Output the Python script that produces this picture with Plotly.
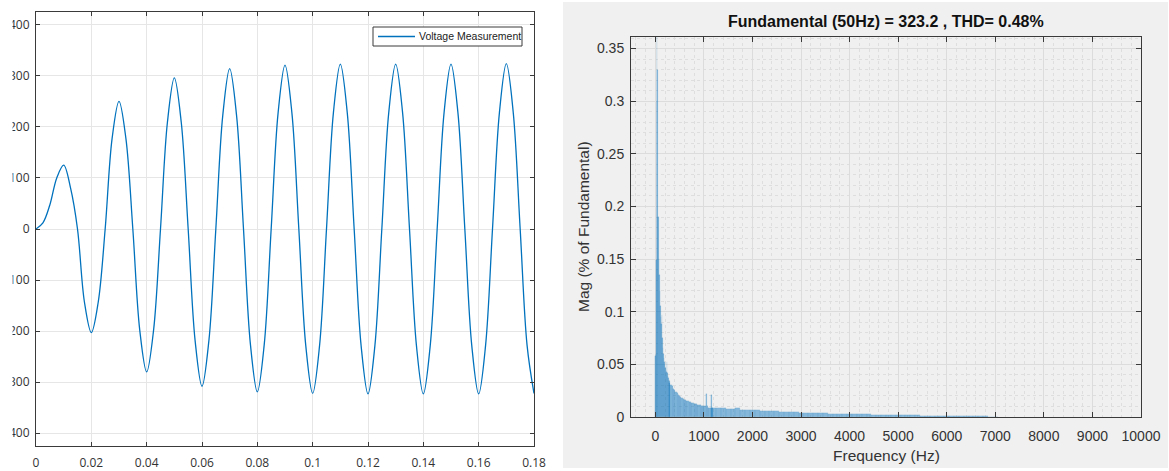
import numpy as np
import plotly.graph_objects as go

W, H = 1169, 471

# left panel: measured voltage, sampled every 2.5 ms
time_s = [round(0.0025 * i, 4) for i in range(73)]
voltage = [
    0, 12, 47, 100, 125, 80, 0, -143, -203, -143,
    0, 177, 250, 177, 0, -198, -280, -198, 0, 209,
    296, 209, 0, -218, -308, -218, 0, 222, 314, 222,
    0, -226, -319, -226, 0, 227, 321, 227, 0, -228,
    -322, -228, 0, 228, 323, 228, 0, -228, -323, -228,
    0, 228, 323, 228, 0, -228, -323, -228, 0, 228,
    323, 228, 0, -228, -323, -228, 0, 228, 324, 228,
    0, -228, -322,
]
series_name = "Voltage Measurement"

# right panel: FFT magnitude (% of fundamental)
freq_low = [0, 10, 20, 30, 40, 50, 60, 70, 80, 90, 100, 110, 120, 130, 140, 150,
            160, 170, 180, 190, 200, 210, 220, 230, 240, 250, 260, 270, 280, 290, 300]
mag_low = [0.058, 0.060, 0.149, 0.300, 0.361, 0.330, 0.190, 0.190, 0.150, 0.135,
           0.120, 0.105, 0.095, 0.088, 0.097, 0.075, 0.066, 0.060, 0.056, 0.052,
           0.050, 0.047, 0.045, 0.043, 0.052, 0.042, 0.039, 0.037, 0.035, 0.034, 0.032]

freq_mid = [325, 350, 375, 400, 425, 450, 475, 500, 525, 550, 575, 600, 625, 650,
            675, 700, 725, 750, 775, 800, 825, 850, 875, 900, 925, 950, 975, 1000,
            1025, 1050, 1075, 1100, 1125, 1150, 1175, 1200]
mag_mid = [0.030, 0.029, 0.027, 0.026, 0.024, 0.023, 0.021, 0.020, 0.019, 0.018,
           0.017, 0.016, 0.016, 0.015, 0.015, 0.014, 0.014, 0.013, 0.013, 0.012,
           0.012, 0.012, 0.011, 0.011, 0.011, 0.010, 0.010, 0.010, 0.010, 0.022,
           0.010, 0.009, 0.009, 0.021, 0.009, 0.009]

freq_high = [1300, 1400, 1500, 1600, 1700, 1800, 1900, 2000, 2100, 2200, 2300, 2400,
             2500, 2600, 2700, 2800, 2900, 3000, 3100, 3200, 3300, 3400, 3500, 3600,
             3700, 3800, 3900, 4000, 4100, 4200, 4300, 4400, 4500, 4600, 4700, 4800,
             4900, 5000, 5100, 5200, 5300, 5400, 5500, 5600, 5700, 5800, 5900, 6000,
             6100, 6200, 6300, 6400, 6500, 6600, 6700, 6800, 6900, 7000]
mag_high = [0.0088, 0.0085, 0.0080, 0.0078, 0.0085, 0.0070, 0.0068, 0.0065, 0.0062,
            0.0060, 0.0058, 0.0055, 0.0053, 0.0050, 0.0048, 0.0046, 0.0044, 0.0042,
            0.0040, 0.0039, 0.0037, 0.0036, 0.0034, 0.0033, 0.0032, 0.0030, 0.0029,
            0.0028, 0.0027, 0.0026, 0.0025, 0.0024, 0.0023, 0.0022, 0.0021, 0.0020,
            0.0019, 0.0018, 0.0017, 0.0016, 0.0016, 0.0015, 0.0014, 0.0013, 0.0013,
            0.0012, 0.0011, 0.0011, 0.0010, 0.0009, 0.0009, 0.0008, 0.0007, 0.0007,
            0.0006, 0.0005, 0.0004, 0.0003]

title_text = "Fundamental (50Hz) = 323.2 , THD= 0.48%"

freq_hz = np.array(freq_low + freq_mid + freq_high, dtype=float)
mag_pct = np.array(mag_low + mag_mid + mag_high)
bar_w = np.diff(freq_hz, append=freq_hz[-1] + (freq_hz[-1] - freq_hz[-2]))

MATLAB_BLUE = "#0072BD"
AXIS_COL = "#3a3a3a"


def px_x(p):
    return p / W


def px_y(p):
    return (H - p) / H


fig = go.Figure()

fig.add_trace(go.Scatter(
    x=time_s, y=voltage, mode="lines", name=series_name, showlegend=False,
    line=dict(color=MATLAB_BLUE, width=1.3, shape="spline", smoothing=1.0),
    xaxis="x", yaxis="y",
))

fig.add_trace(go.Bar(
    x=freq_hz, y=mag_pct, width=bar_w, showlegend=False,
    marker=dict(color="rgba(0,114,189,0.45)",
                line=dict(color="rgba(0,114,189,0.3)", width=0.3)),
    xaxis="x2", yaxis="y2",
))

left_font = dict(family="Open Sans", size=12, color="#333333")
right_font = dict(family="Liberation Sans", size=14, color="#333333")

common = dict(
    zeroline=False, showline=True, linecolor=AXIS_COL, linewidth=1,
    mirror="ticks", ticks="inside", tickcolor=AXIS_COL, automargin=False,
    showgrid=True,
)

fig.update_layout(
    width=W, height=H,
    margin=dict(l=0, r=0, t=0, b=0, autoexpand=False),
    paper_bgcolor="white", plot_bgcolor="white",
    showlegend=False, bargap=0,
    xaxis=dict(
        domain=[px_x(36), px_x(534)], range=[0, 0.18], dtick=0.02, tick0=0,
        gridcolor="#e6e6e6", ticklen=4,
        tickfont=left_font, ticklabelstandoff=6, anchor="y", **common,
    ),
    yaxis=dict(
        domain=[px_y(446), px_y(12)], range=[-425, 425], dtick=100, tick0=0,
        gridcolor="#e6e6e6", ticklen=4,
        tickfont=left_font, ticklabelstandoff=3, anchor="x", **common,
    ),
    xaxis2=dict(
        domain=[px_x(631), px_x(1141)], range=[-500, 10000], dtick=1000, tick0=0,
        tickformat="d", gridcolor="#dcdcdc", ticklen=5,
        minor=dict(dtick=200, showgrid=True, gridcolor="#dedede", griddash="dot",
                   gridwidth=1),
        tickfont=right_font, ticklabelstandoff=6, anchor="y2", **common,
    ),
    yaxis2=dict(
        domain=[px_y(417), px_y(37)], range=[0, 0.361], dtick=0.05, tick0=0,
        gridcolor="#dcdcdc", ticklen=5,
        minor=dict(dtick=0.01, showgrid=True, gridcolor="#dedede", griddash="dot",
                   gridwidth=1),
        tickfont=right_font, ticklabelstandoff=3, anchor="x2", **common,
    ),
    shapes=[
        # grey figure background behind the spectrum axes
        dict(type="rect", xref="paper", yref="paper", layer="below",
             x0=px_x(563), x1=px_x(1168), y0=px_y(468), y1=px_y(2),
             fillcolor="#f0f0f0", line=dict(width=0)),
        # the screenshot cuts off the left edge of the y labels
        dict(type="rect", xref="paper", yref="paper", layer="above",
             x0=0, x1=px_x(12.5), y0=px_y(446), y1=1,
             fillcolor="white", line=dict(width=0)),
        # MATLAB-style legend box + line sample
        dict(type="rect", xref="paper", yref="paper", layer="above",
             x0=px_x(373), x1=px_x(522), y0=px_y(46), y1=px_y(27),
             fillcolor="white", line=dict(color=AXIS_COL, width=1)),
        dict(type="line", xref="paper", yref="paper", layer="above",
             x0=px_x(378), x1=px_x(415), y0=px_y(36.5), y1=px_y(36.5),
             line=dict(color=MATLAB_BLUE, width=1.3)),
    ],
    annotations=[
        dict(text=series_name, xref="paper", yref="paper",
             x=px_x(417), y=px_y(36.5), xanchor="left", yanchor="middle",
             showarrow=False,
             font=dict(family="Liberation Sans Narrow, Liberation Sans",
                       size=10.5, color="#222")),
        dict(text=f"<b>{title_text}</b>", xref="paper", yref="paper",
             x=px_x(886), y=px_y(22), xanchor="center", yanchor="middle",
             showarrow=False,
             font=dict(family="Liberation Sans", size=16, color="#111")),
        dict(text="Frequency (Hz)", xref="paper", yref="paper",
             x=px_x(886), y=px_y(455), xanchor="center", yanchor="middle",
             showarrow=False,
             font=dict(family="Liberation Sans", size=15.5, color="#333")),
        dict(text="Mag (% of Fundamental)", xref="paper", yref="paper",
             x=px_x(583), y=px_y(227), xanchor="center", yanchor="middle",
             showarrow=False, textangle=-90,
             font=dict(family="Liberation Sans", size=15.5, color="#333")),
    ],
)

fig.write_html(
    "out.html",
    config={"displayModeBar": False},
    post_script="document.body.style.margin='0';document.body.style.overflow='hidden';",
)
